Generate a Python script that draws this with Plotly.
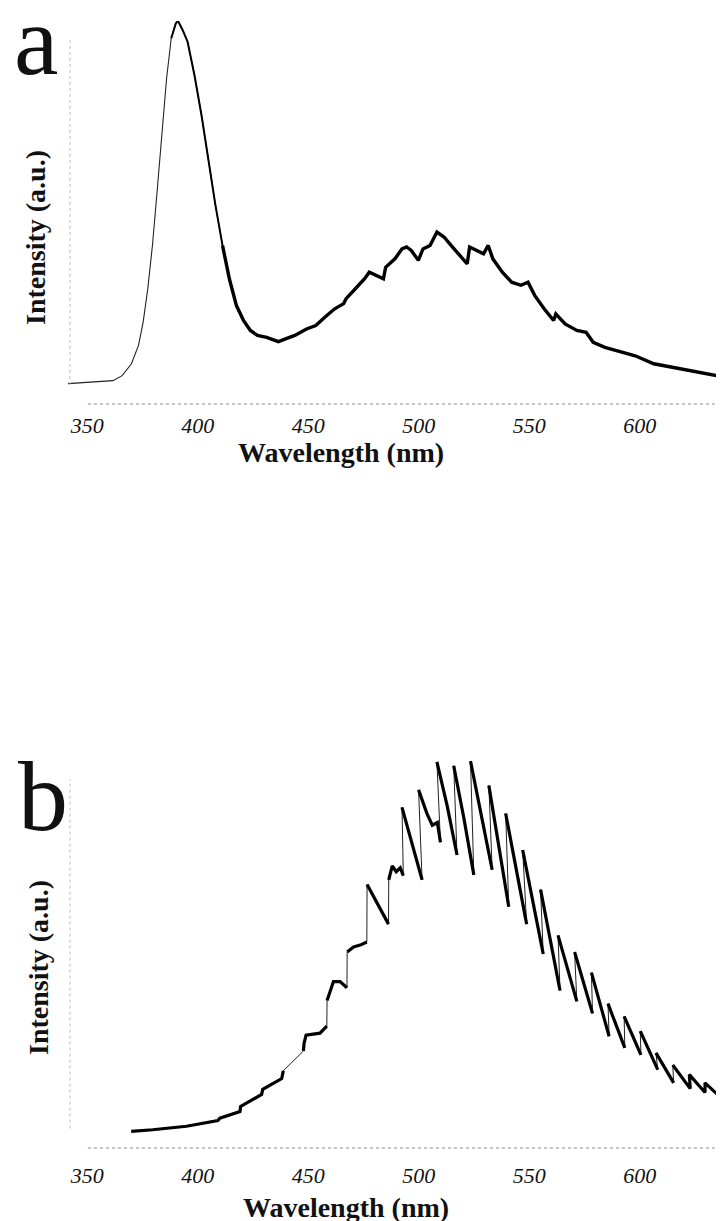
import plotly.graph_objects as go

# ---------------- data ----------------
# Panel a: emission spectrum, wavelength (nm) and intensity (a.u., 0-100)
wl_a = [338.4, 353.2, 361.6, 365.8, 370.0, 373.2, 375.3, 377.4, 379.5, 381.6,
        383.8, 385.9, 388.0, 390.1, 391.1, 393.2, 395.4, 398.5, 401.7, 404.9,
        408.0, 411.2, 414.3, 417.5, 420.7, 423.8, 427.0, 431.2, 436.5, 439.7,
        443.9, 449.2, 453.4, 457.6, 461.8, 466.0, 467.1, 471.3, 475.5, 477.6,
        480.8, 484.0, 485.0, 489.2, 492.4, 494.5, 496.6, 499.8, 501.9, 505.1,
        508.2, 511.4, 514.6, 518.8, 521.9, 523.0, 526.2, 529.3, 531.4, 533.5,
        537.8, 542.0, 546.2, 549.4, 552.5, 556.8, 561.0, 562.0, 566.2, 571.5,
        575.7, 578.9, 584.2, 591.6, 597.9, 606.3, 614.8, 623.2, 631.6, 636.7,
        641.5]
int_a = [5.2, 5.7, 6.1, 7.4, 10.5, 15.3, 21.4, 30.1, 41.4, 55.4,
         71.1, 85.0, 95.5, 99.4, 100.0, 97.6, 94.6, 85.9, 75.4, 63.2,
         51.9, 41.4, 32.7, 25.7, 21.8, 19.2, 17.9, 17.4, 16.3, 17.0,
         17.9, 19.6, 20.5, 22.7, 24.8, 26.2, 27.5, 30.1, 32.7, 34.4,
         33.6, 32.7, 35.7, 37.9, 40.5, 41.0, 40.1, 37.5, 40.5, 41.4,
         44.9, 43.6, 41.4, 38.8, 36.6, 41.0, 40.1, 39.2, 41.4, 37.9,
         34.4, 31.8, 31.0, 31.8, 28.3, 24.8, 21.8, 23.5, 20.9, 19.2,
         18.7, 16.1, 14.8, 13.5, 12.6, 10.5, 9.6, 8.7, 7.8, 7.2,
         6.7]

# Panel b: stepped / saw-tooth spectrum
wl_b = [369.9, 379.6, 394.9, 409.1, 410.0, 419.1, 419.4, 428.9, 429.4, 438.0,
        438.7, 447.8, 448.1, 449.0, 455.3, 458.4, 458.5, 459.9, 461.4, 464.4,
        467.5, 467.6, 470.5, 473.5, 476.5, 476.6, 481.4, 486.3, 486.4, 488.0,
        489.8, 491.6, 493.0, 492.4, 497.0, 501.5, 499.9, 503.7, 506.1, 508.4,
        509.8, 508.2, 512.8, 517.3, 515.8, 520.4, 524.9, 523.4, 528.3, 533.2,
        531.7, 540.7, 539.3, 548.8, 547.0, 556.3, 555.1, 563.9, 563.0, 571.5,
        570.5, 578.6, 578.1, 586.1, 585.6, 593.2, 592.9, 600.5, 600.2, 608.1,
        607.3, 615.3, 614.9, 622.8, 622.4, 629.5, 629.5, 637.5, 636.8, 641.5]
int_b = [4.3, 4.7, 5.6, 7.1, 7.7, 9.4, 10.7, 13.8, 15.1, 17.9,
         19.9, 25.0, 27.0, 29.1, 29.6, 31.4, 38.0, 40.6, 42.9, 42.9,
         41.3, 50.5, 51.8, 52.3, 53.1, 67.9, 63.0, 57.7, 69.1, 72.7,
         71.2, 72.2, 70.2, 87.8, 78.5, 69.1, 92.3, 86.2, 83.2, 83.9,
         78.8, 99.5, 88.3, 75.5, 98.5, 85.0, 70.4, 99.7, 86.0, 71.7,
         93.4, 62.2, 86.2, 57.7, 76.8, 50.0, 66.6, 40.6, 54.8, 37.8,
         50.5, 34.7, 45.2, 28.8, 37.2, 25.8, 33.9, 24.0, 30.1, 20.2,
         24.5, 16.8, 21.4, 15.3, 18.9, 14.3, 16.8, 12.5, 14.3, 12.0]

tick_vals = [350, 400, 450, 500, 550, 600]
tick_text = ["350", "400", "450", "500", "550", "600"]
x_title = "Wavelength (nm)"
y_title = "Intensity (a.u.)"
panel_labels = ["a", "b"]

# ---------------- figure ----------------
W, H = 724, 1221
SERIF = "Liberation Serif"


def py(px):
    """pixel row -> paper fraction"""
    return 1 - px / H


def pxx(px):
    return px / W


fig = go.Figure()

# panel a: thin full line + thicker noisy part
fig.add_trace(go.Scatter(x=wl_a, y=int_a, mode="lines", xaxis="x", yaxis="y",
                         line=dict(color="#222", width=1.1), hoverinfo="skip"))
mid_x = [w for w in wl_a if 386 <= w <= 413]
mid_y = [v for w, v in zip(wl_a, int_a) if 386 <= w <= 413]
fig.add_trace(go.Scatter(x=mid_x, y=mid_y, mode="lines", xaxis="x", yaxis="y",
                         line=dict(color="#000", width=2), hoverinfo="skip"))
thk_x = [w for w in wl_a if w >= 411]
thk_y = [v for w, v in zip(wl_a, int_a) if w >= 411]
fig.add_trace(go.Scatter(x=thk_x, y=thk_y, mode="lines", xaxis="x", yaxis="y",
                         line=dict(color="#000", width=3.4), hoverinfo="skip"))

# panel b: thin full line (shows the jumps) + thick segments without jumps
fig.add_trace(go.Scatter(x=wl_b, y=int_b, mode="lines", xaxis="x2", yaxis="y2",
                         line=dict(color="#222", width=1), hoverinfo="skip"))
seg_x, seg_y = [wl_b[0]], [int_b[0]]
for i in range(1, len(wl_b)):
    if int_b[i] - int_b[i - 1] > 4:
        seg_x.append(None)
        seg_y.append(None)
    seg_x.append(wl_b[i])
    seg_y.append(int_b[i])
fig.add_trace(go.Scatter(x=seg_x, y=seg_y, mode="lines", xaxis="x2", yaxis="y2",
                         line=dict(color="#000", width=3.2), hoverinfo="skip",
                         connectgaps=False))

xr = [341.3, 641.7]
xdom = [pxx(60), 1.0]
ax_common = dict(range=xr, domain=xdom, showgrid=False, zeroline=False,
                 showline=False, ticks="", tickvals=tick_vals, ticktext=tick_text,
                 tickfont=dict(family=SERIF, size=22, color="#111", style="italic"),
                 fixedrange=True)
ya_common = dict(range=[0, 100], showgrid=False, zeroline=False, showline=False,
                 showticklabels=False, ticks="", fixedrange=True)

fig.update_layout(
    width=W, height=H,
    margin=dict(l=0, r=0, t=0, b=0),
    paper_bgcolor="white", plot_bgcolor="white",
    showlegend=False,
    xaxis=dict(anchor="y", ticklabelstandoff=6, **ax_common),
    yaxis=dict(domain=[py(396), py(13)], anchor="x", **ya_common),
    xaxis2=dict(anchor="y2", ticklabelstandoff=12, **ax_common),
    yaxis2=dict(domain=[py(1140), py(752)], anchor="x2", **ya_common),
)

# faint dotted axis lines
for xa, ya in [("x", "y"), ("x2", "y2")]:
    fig.add_shape(type="line", xref=f"{xa} domain", yref=f"{ya} domain",
                  x0=0.03, x1=0.99, y0=0, y1=0,
                  line=dict(color="#888", width=1.2, dash="dot"))
    fig.add_shape(type="line", xref=f"{xa} domain", yref=f"{ya} domain",
                  x0=0.003, x1=0.003, y0=0.05, y1=0.95,
                  line=dict(color="#bbb", width=1, dash="dot"))

title_font = dict(family=SERIF, size=28, color="#111", weight="bold")
letter_font = dict(family=SERIF, size=100, color="#111")
ann = [
    dict(text=panel_labels[0], x=pxx(4), y=py(33), xanchor="left", yanchor="middle",
         font=letter_font),
    dict(text=panel_labels[1], x=pxx(8), y=py(788), xanchor="left", yanchor="middle",
         font=letter_font),
    dict(text=y_title, x=pxx(27), y=py(230), xanchor="center", yanchor="middle",
         textangle=-90, font=title_font),
    dict(text=y_title, x=pxx(31), y=py(960), xanchor="center", yanchor="middle",
         textangle=-90, font=title_font),
    dict(text=x_title, x=pxx(333), y=py(444), xanchor="center", yanchor="middle",
         font=title_font),
    dict(text=x_title, x=pxx(338), y=py(1199), xanchor="center", yanchor="middle",
         font=title_font),
]
for a in ann:
    fig.add_annotation(xref="paper", yref="paper", showarrow=False, **a)

fig.write_html("out.html")
